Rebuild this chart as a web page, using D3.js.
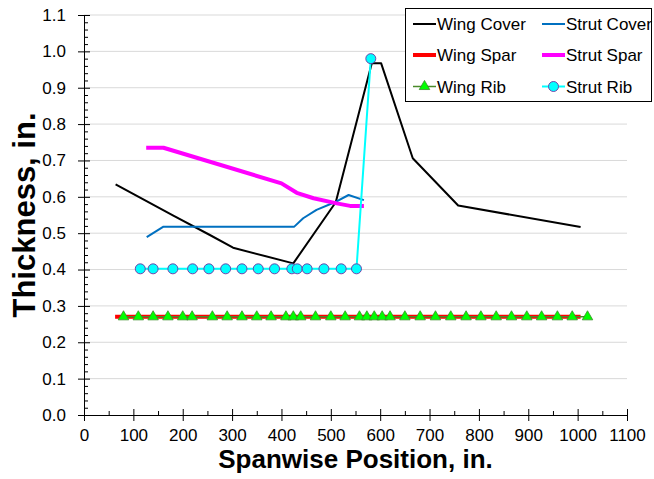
<!DOCTYPE html>
<html>
<head>
<meta charset="utf-8">
<script src="https://cdn.jsdelivr.net/npm/d3@7"></script>
<style>
    body { margin: 0; background: #fff; }
    text { font-family: Arial, "Liberation Sans", sans-serif; }
</style>
</head>
<body>
<div id="root"></div>
<script>
// values
const wingCoverX = [64, 181, 255, 302, 424, 510, 583, 602, 666, 758, 1006];
const wingCoverY = [0.634, 0.548, 0.495, 0.460, 0.417, 0.585, 0.967, 0.967, 0.706, 0.576, 0.517];

const wingSparX = [63, 1006];
const wingSparY = [0.27, 0.27];

const wingRibX = [80, 110, 140, 170, 200, 219, 260, 290, 320, 350, 379, 409, 424, 439, 469, 500, 529, 558,
    573, 588, 604, 620, 650, 681, 712, 743, 774, 804, 835, 866, 897, 927, 959, 989, 1020];
const wingRibY = [0.27, 0.27, 0.27, 0.27, 0.27, 0.27, 0.27, 0.27, 0.27, 0.27, 0.27, 0.27, 0.27, 0.27, 0.27, 0.27, 0.27, 0.27,
    0.27, 0.27, 0.27, 0.27, 0.27, 0.27, 0.27, 0.27, 0.27, 0.27, 0.27, 0.27, 0.27, 0.27, 0.27, 0.27, 0.27];

const strutCoverX = [127, 161, 426, 444, 471, 508, 536, 567];
const strutCoverY = [0.489, 0.518, 0.518, 0.541, 0.564, 0.585, 0.605, 0.591];

const strutSparX = [126, 161, 400, 431, 465, 512, 539, 567];
const strutSparY = [0.735, 0.735, 0.637, 0.611, 0.596, 0.582, 0.575, 0.575];

const strutRibX = [114, 140, 180, 220, 253, 287, 320, 353, 386, 421, 432, 452, 486, 521, 552, 581];
const strutRibY = [0.402, 0.402, 0.402, 0.402, 0.402, 0.402, 0.402, 0.402, 0.402, 0.402, 0.402, 0.402, 0.402, 0.402, 0.402, 0.98];

const xTicks = [0, 100, 200, 300, 400, 500, 600, 700, 800, 900, 1000, 1100];
const yTicks = [0.0, 0.1, 0.2, 0.3, 0.4, 0.5, 0.6, 0.7, 0.8, 0.9, 1.0, 1.1];

const width = 654, height = 479;
const plot = { left: 84, right: 627, top: 15, bottom: 415 };

const svg = d3.select("#root").append("svg")
    .attr("width", width)
    .attr("height", height);

const xScale = d3.scaleLinear().domain([0, 1100]).range([plot.left, plot.right]);
const yScale = d3.scaleLinear().domain([0, 1.1]).range([plot.bottom, plot.top]);

// gridlines
svg.append("g")
    .selectAll("line")
    .data(yTicks.slice(1))
    .join("line")
    .attr("x1", plot.left).attr("x2", plot.right)
    .attr("y1", d => yScale(d)).attr("y2", d => yScale(d))
    .attr("stroke", "#d9d9d9")
    .attr("stroke-width", 1);

// minor ticks
const xMinor = d3.range(50, 1100, 100);
const yMinor = d3.range(0, 1.1, 0.02).filter(v => Math.abs(v * 10 - Math.round(v * 10)) > 0.01);

svg.append("g")
    .attr("transform", `translate(0, ${plot.bottom})`)
    .call(d3.axisBottom(xScale).tickValues(xMinor).tickSizeInner(-4).tickSizeOuter(0).tickFormat(""))
    .call(g => g.select(".domain").remove());

svg.append("g")
    .attr("transform", `translate(${plot.left}, 0)`)
    .call(d3.axisLeft(yScale).tickValues(yMinor).tickSizeInner(-4).tickSizeOuter(0).tickFormat(""))
    .call(g => g.select(".domain").remove());

// major axes
const xAxis = svg.append("g")
    .attr("transform", `translate(0, ${plot.bottom})`)
    .call(d3.axisBottom(xScale).tickValues(xTicks).tickSizeOuter(0).tickSize(6).tickPadding(8).tickFormat(d3.format("d")));
xAxis.selectAll(".tick line").attr("y1", -6);
xAxis.selectAll("text").attr("font-size", 17).attr("fill", "#000").attr("font-family", "Arial, 'Liberation Sans', sans-serif");

const yAxis = svg.append("g")
    .attr("transform", `translate(${plot.left}, 0)`)
    .call(d3.axisLeft(yScale).tickValues(yTicks).tickSizeOuter(0).tickSize(6).tickPadding(12).tickFormat(d3.format(".1f")));
yAxis.selectAll(".tick line").attr("x1", 6);
yAxis.selectAll("text").attr("font-size", 17).attr("fill", "#000").attr("font-family", "Arial, 'Liberation Sans', sans-serif");

svg.selectAll(".domain").attr("stroke", "#000");
svg.selectAll(".tick line").attr("stroke", "#000");

// axis titles
svg.append("text")
    .attr("x", (plot.left + plot.right) / 2)
    .attr("y", 468)
    .attr("text-anchor", "middle")
    .attr("font-size", 26)
    .attr("font-weight", "bold")
    .text("Spanwise Position, in.");

svg.append("text")
    .attr("transform", `translate(35, ${(plot.top + plot.bottom) / 2}) rotate(-90)`)
    .attr("text-anchor", "middle")
    .attr("font-size", 31)
    .attr("font-weight", "bold")
    .text("Thickness, in.");

// series
const toPoints = (xs, ys) => xs.map((x, i) => ({ x: x, y: ys[i] }));
const line = d3.line().x(d => xScale(d.x)).y(d => yScale(d.y));

const series = [
    { name: "Wing Cover", pts: toPoints(wingCoverX, wingCoverY), color: "#000000", width: 2 },
    { name: "Wing Spar", pts: toPoints(wingSparX, wingSparY), color: "#ff0000", width: 4 },
    { name: "Wing Rib", pts: toPoints(wingRibX, wingRibY), color: "#4a8a2a", width: 1.5, marker: "triangle" },
    { name: "Strut Cover", pts: toPoints(strutCoverX, strutCoverY), color: "#0070c0", width: 2 },
    { name: "Strut Spar", pts: toPoints(strutSparX, strutSparY), color: "#ff00ff", width: 4 },
    { name: "Strut Rib", pts: toPoints(strutRibX, strutRibY), color: "#00ffff", width: 2, marker: "circle" }
];

const triangle = d3.symbol().type(d3.symbolTriangle).size(48);

function drawMarker(g, kind, cx, cy)
{
    if(kind == "triangle")
    {
        g.append("path")
            .attr("d", triangle())
            .attr("transform", `translate(${cx}, ${cy})`)
            .attr("fill", "#00ff00")
            .attr("stroke", "#3c8c28")
            .attr("stroke-width", 0.8);
    }
    else if(kind == "circle")
    {
        g.append("circle")
            .attr("cx", cx).attr("cy", cy).attr("r", 5)
            .attr("fill", "#00ffff")
            .attr("stroke", "#7030a0")
            .attr("stroke-width", 0.9);
    }
}

for(const s of series)
{
    const g = svg.append("g");
    g.append("path")
        .datum(s.pts)
        .attr("fill", "none")
        .attr("stroke", s.color)
        .attr("stroke-width", s.width)
        .attr("stroke-linejoin", "round")
        .attr("d", line);
    if(s.marker)
        for(const p of s.pts) drawMarker(g, s.marker, xScale(p.x), yScale(p.y));
}

// legend
const legend = svg.append("g");
legend.append("rect")
    .attr("x", 405.5).attr("y", 8.5)
    .attr("width", 246).attr("height", 93)
    .attr("fill", "#fff")
    .attr("stroke", "#000")
    .attr("stroke-width", 1);

const legendOrder = ["Wing Cover", "Strut Cover", "Wing Spar", "Strut Spar", "Wing Rib", "Strut Rib"];
const colX = [413, 542];
const rowY = [24, 55, 86.5];

legendOrder.forEach((name, i) => {
    const s = series.find(d => d.name == name);
    const x0 = colX[i % 2];
    const y0 = rowY[Math.floor(i / 2)];
    legend.append("line")
        .attr("x1", x0).attr("x2", x0 + 23)
        .attr("y1", y0).attr("y2", y0)
        .attr("stroke", s.color)
        .attr("stroke-width", s.width);
    if(s.marker) drawMarker(legend, s.marker, x0 + 11.5, y0);
    legend.append("text")
        .attr("x", x0 + 24)
        .attr("y", y0 + 6)
        .attr("font-size", 17)
        .text(name);
});
</script>
</body>
</html>
